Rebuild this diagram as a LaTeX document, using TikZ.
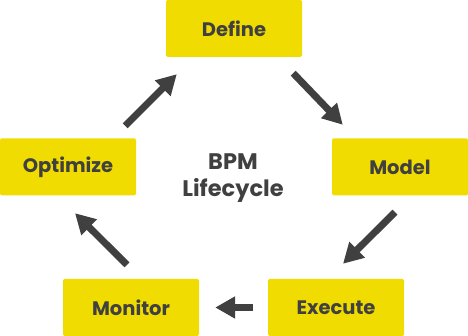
\documentclass[tikz,border=0pt]{standalone}
\usepackage{fontspec}
\setmainfont{Poppins}
\usepackage{xcolor}
\usetikzlibrary{positioning, calc, arrows.meta}
\definecolor{stageyellow}{HTML}{F0DC00}
\definecolor{charcoal}{HTML}{404040}

\begin{document}
\begin{tikzpicture}[x=1pt, y=1pt,
  stage/.style={fill=stageyellow, rounded corners=1.5pt, minimum width=136pt, minimum height=57pt, inner sep=0pt, font=\fontsize{19.5}{22}\selectfont\bfseries, text=charcoal},
  flow/.style={-{Triangle[length=20pt, width=21pt]}, line width=7pt, draw=charcoal}]
\useasboundingbox (0,0) rectangle (468,336);
\node[stage] (define) at (234,307.5) {Define};
\node[stage] (model) at (400,169) {Model};
\node[stage] (execute) at (336,28.5) {Execute};
\node[stage] (monitor) at (131,28.5) {Monitor};
\node[stage] (optimize) at (68,169) {Optimize};
\node[align=center, text=charcoal, font=\fontsize{22.5}{27}\selectfont\bfseries] (title) at (233,158) {BPM\\Lifecycle};
\draw[flow] ($(optimize.north east)+(-11,12.5)$) -- ($(define.south west)+(11,-17)$);
\draw[flow] ($(define.south east)+(-9,-16)$) -- ($(model.north west)+(11,13.5)$);
\draw[flow] ($(model.south)+(-5,-16.5)$) -- ($(execute.north)+(7,15)$);
\draw[flow] ($(execute.west)+(-15,0)$) -- ($(monitor.east)+(16,0)$);
\draw[flow] ($(monitor.north)+(-4,14)$) -- ($(optimize.south)+(7,-17.5)$);
\end{tikzpicture}
\end{document}
